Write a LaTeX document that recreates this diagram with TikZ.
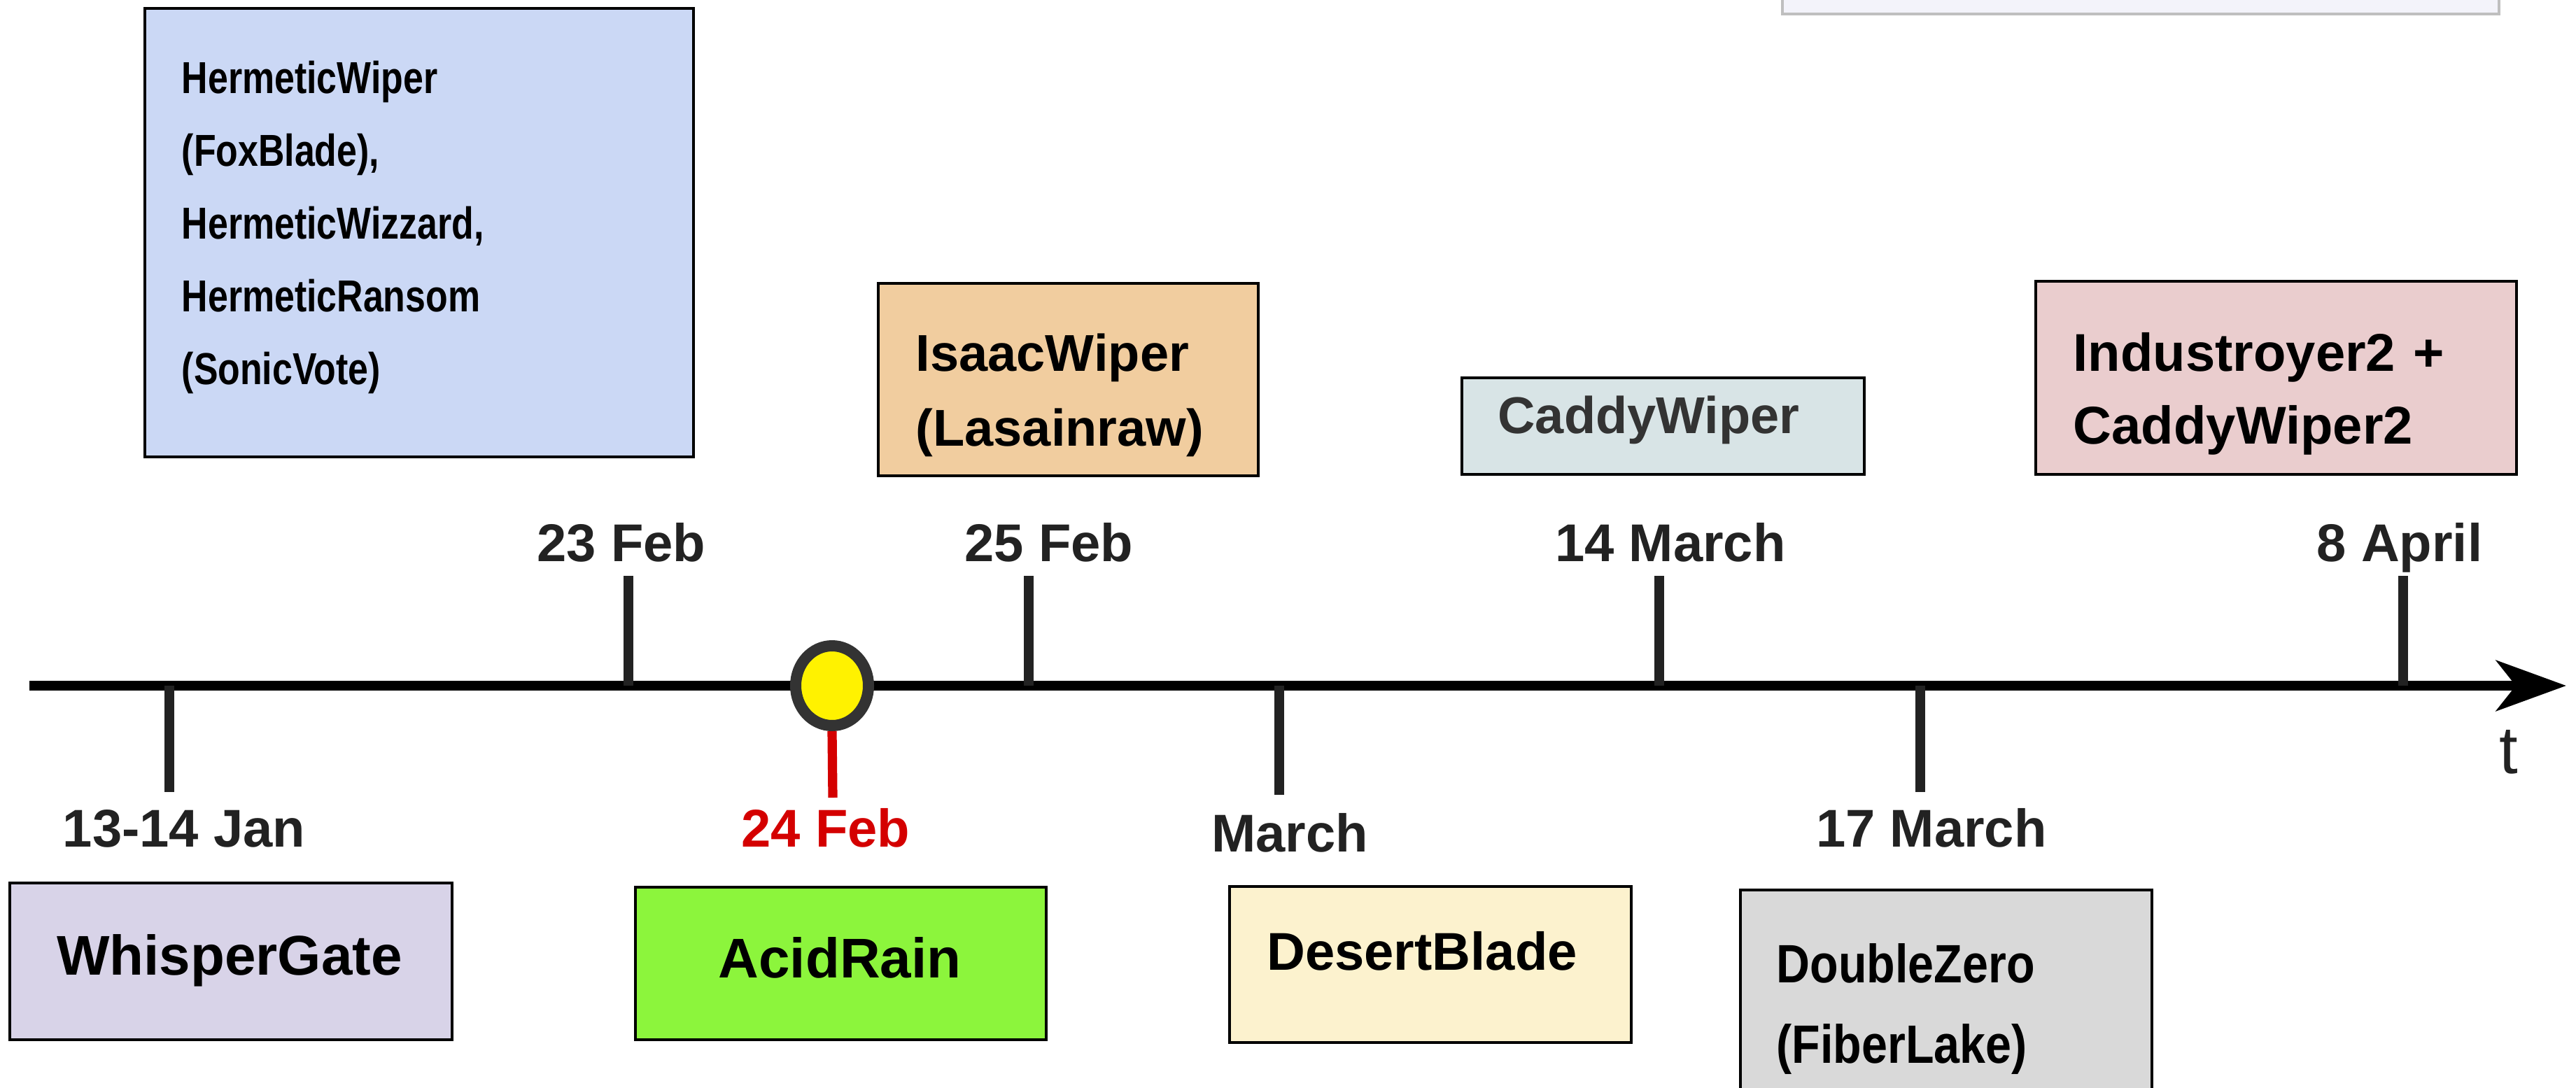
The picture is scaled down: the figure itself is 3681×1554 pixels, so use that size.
\documentclass[tikz,border=0pt]{standalone}
\usepackage{fontspec}
\setmainfont{Liberation Sans}
\newfontfamily\narrowsf{Liberation Sans}[FakeStretch=0.86]
\newfontfamily\hermsf{Liberation Sans}[FakeStretch=0.81]
\usetikzlibrary{arrows.meta,shapes.geometric}

\definecolor{hermfill}{HTML}{CBD8F5}
\definecolor{whispfill}{HTML}{D8D3E8}
\definecolor{acidfill}{HTML}{8CF53C}
\definecolor{isaacfill}{HTML}{F1CD9F}
\definecolor{desertfill}{HTML}{FCF2CE}
\definecolor{caddyfill}{HTML}{D8E4E6}
\definecolor{doublefill}{HTML}{D9D9D9}
\definecolor{indfill}{HTML}{EACDCE}
\definecolor{notefill}{HTML}{F3F3FA}
\definecolor{inkgray}{HTML}{222222}
\definecolor{ringgray}{HTML}{333333}
\definecolor{alertred}{HTML}{D40000}

\begin{document}
\begin{tikzpicture}[x=0.25pt,y=-0.25pt,
  evtbox/.style={draw=black,line width=1.2pt},
  boxtxt/.style={anchor=base west,align=left,inner sep=0pt,text width=#1},
  onetxt/.style={anchor=base,inner sep=0pt},
  datelbl/.style={anchor=base,inner sep=0pt,text=inkgray,font=\bfseries\fontsize{19}{23}\selectfont},
  tickline/.style={line width=3.6pt,draw=inkgray}]
\useasboundingbox (0,0) rectangle (3681,1554);

% box cut off at the top edge
\draw[draw=black!25,fill=notefill,line width=1pt] (2547,-30) rectangle (3571,20);

% time axis
\coordinate (t0) at (42,980);
\coordinate (t1) at (3667,980);
\draw[line width=3.6pt,-{Stealth[length=25pt,width=18pt,inset=7pt]}] (t0) -- (t1);
\node[onetxt,text=inkgray,font=\fontsize{24}{28}\selectfont] (tlbl) at (3585,1105) {t};

% ticks
\foreach \tk/\tx/\ty in {jan/242/1132,feba/898/823,febc/1470/823,mara/1828/1136,marb/2371/823,marc/2744/1132,apr/3434/823}{
  \coordinate (\tk0) at (\tx,980);
  \coordinate (\tk1) at (\tx,\ty);
  \draw[tickline] (\tk0) -- (\tk1);
}

% 24 Feb marker
\coordinate (redend) at (1190,1140);
\node[ellipse,draw=ringgray,fill=yellow,line width=4pt,minimum width=26pt,minimum height=28.5pt,inner sep=0pt] (now) at (1189,980) {};
\draw[line width=3.3pt,draw=alertred] (now.south) -- (redend);

% dates
\node[datelbl] (d1) at (263,1210) {13-14 Jan};
\node[datelbl] (d2) at (888,802) {23 Feb};
\node[datelbl,text=alertred] (d3) at (1180,1210) {24 Feb};
\node[datelbl] (d4) at (1499,802) {25 Feb};
\node[datelbl] (d5) at (1843,1217) {March};
\node[datelbl] (d6) at (2387,802) {14 March};
\node[datelbl] (d7) at (2760,1210) {17 March};
\node[datelbl] (d8) at (3429,802) {8 April};

% events
\draw[evtbox,fill=hermfill] (207,12) rectangle (991,653);
\node[boxtxt=190pt,font=\hermsf\bfseries\fontsize{16}{26}\selectfont] (hermetic) at (259,133) {HermeticWiper\\(FoxBlade),\\HermeticWizzard,\\HermeticRansom\\(SonicVote)};

\draw[evtbox,fill=whispfill] (14,1262) rectangle (646,1486);
\node[onetxt,font=\bfseries\fontsize{20}{24}\selectfont] (whisper) at (328,1393) {WhisperGate};

\draw[evtbox,fill=acidfill] (908,1268) rectangle (1495,1486);
\node[onetxt,font=\bfseries\fontsize{20}{24}\selectfont] (acid) at (1200,1397) {AcidRain};

\draw[evtbox,fill=isaacfill] (1255,405) rectangle (1798,680);
\node[boxtxt=120pt,font=\bfseries\fontsize{18.5}{26.75}\selectfont] (isaac) at (1308,530) {IsaacWiper\\(Lasainraw)};

\draw[evtbox,fill=desertfill] (1757,1267) rectangle (2331,1490);
\node[onetxt,font=\bfseries\fontsize{19}{23}\selectfont] (desert) at (2032,1386) {DesertBlade};

\draw[evtbox,fill=caddyfill] (2089,540) rectangle (2664,678);
\node[onetxt,text=black!80,font=\bfseries\fontsize{18.5}{23}\selectfont] (caddy) at (2356,619) {CaddyWiper};

\draw[evtbox,fill=doublefill] (2487,1272) rectangle (3075,1600);
\node[boxtxt=140pt,font=\narrowsf\bfseries\fontsize{19.3}{28.75}\selectfont] (double) at (2538,1404) {DoubleZero\\(FiberLake)};

\draw[evtbox,fill=indfill] (2909,402) rectangle (3596,678);
\node[boxtxt=160pt,font=\bfseries\fontsize{19}{26}\selectfont] (indus) at (2962,530) {Industroyer2 +\\CaddyWiper2};
\end{tikzpicture}
\end{document}
